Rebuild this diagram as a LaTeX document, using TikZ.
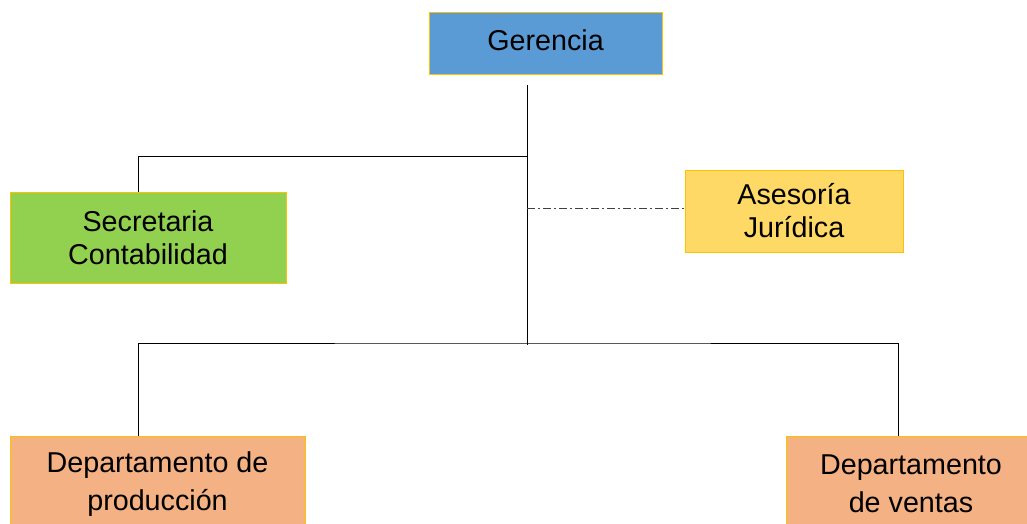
\documentclass[tikz,border=0pt]{standalone}
\usepackage{fontspec}
\setmainfont{Liberation Sans}
\begin{document}
\begin{tikzpicture}[x=1pt,y=-1pt,
  unit/.style={draw=boxline,line width=1pt,align=center,inner sep=0pt,
    font=\fontsize{28.7}{33}\selectfont,text=black},
  link/.style={draw=black,line width=0.9pt},
  staff/.style={draw=black!75,line width=0.9pt,dash pattern=on 8pt off 3pt on 2pt off 3pt}]
\definecolor{boxline}{HTML}{FFC000}
\definecolor{blueunit}{HTML}{5B9BD5}
\definecolor{greenunit}{HTML}{92D050}
\definecolor{yellowunit}{HTML}{FFD966}
\definecolor{orangeunit}{HTML}{F4B183}
\useasboundingbox (0,0) rectangle (1027,524);
\clip (0,0) rectangle (1027,524);
\fill[white] (0,0) rectangle (1027,524);

% organisational units
\node[unit,fill=blueunit,minimum width=233pt,minimum height=62pt,text depth=8pt] (ger) at (545.5,44) {Gerencia};
\node[unit,fill=greenunit,minimum width=276pt,minimum height=91pt] (sec) at (148,237.5) {Secretaria\\Contabilidad};
\node[unit,fill=yellowunit,minimum width=218pt,minimum height=82pt] (ase) at (794,211) {Asesoría\\Jurídica};
\node[unit,fill=orangeunit,minimum width=295pt,minimum height=96pt,font=\fontsize{28.7}{37.5}\selectfont] (pro) at (157.5,484) {Departamento de\\producción};
\node[unit,fill=orangeunit,minimum width=250pt,minimum height=96pt,font=\fontsize{28.7}{37.5}\selectfont] (ven) at (911,484) {Departamento\\de ventas};

% branch points of the tree
\coordinate (trunktop) at (527,85);
\coordinate (trunkbot) at (527,345);
\coordinate (secjoin) at (527,156);
\coordinate (depjoin) at (527,343);
\coordinate (secin) at (138,192);
\coordinate (proin) at (138,436);
\coordinate (venin) at (898,436);

% connectors
\draw[link] (trunktop) -- (trunkbot);
\draw[link] (secjoin) -| (secin);
\draw[link] (proin) |- (depjoin) -| (venin);
\draw[staff] (527,208) -- (ase.west |- 0,208);
\end{tikzpicture}
\end{document}
